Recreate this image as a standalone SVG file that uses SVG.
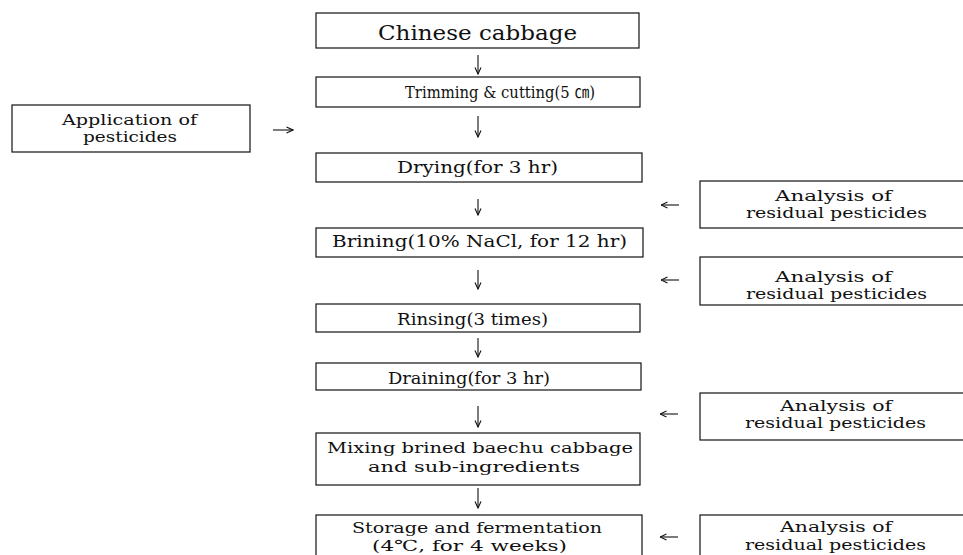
<svg xmlns="http://www.w3.org/2000/svg" width="963" height="555" viewBox="0 0 963 555">
<style>
  .box { fill: #ffffff; stroke: #111111; stroke-width: 1.2; }
  .t { font-family: "DejaVu Serif", "Liberation Serif", "Noto Sans CJK KR", serif; font-size: 17px; fill: #111111; }
  .big { font-size: 21px; }
  .sm { font-size: 14.5px; }
  .md { font-size: 15.5px; }
  .conn { stroke: #111111; stroke-width: 1.1; fill: none; marker-end: url(#ah); }
</style>
<defs>
  <marker id="ah" viewBox="0 0 8 8" refX="7.5" refY="4" markerWidth="8" markerHeight="8" markerUnits="userSpaceOnUse" orient="auto">
    <path d="M1,1 L7.5,4 L1,7" fill="none" stroke="#111111" stroke-width="1.1"/>
  </marker>
</defs>
<rect width="963" height="555" fill="#ffffff"/>

<g id="n1">
  <rect class="box" x="316" y="13" width="323" height="35"/>
  <text class="t big" x="378" y="40" textLength="199" lengthAdjust="spacingAndGlyphs">Chinese cabbage</text>
</g>
<g id="n2">
  <rect class="box" x="316" y="77" width="324" height="30"/>
  <text class="t" x="405" y="98" font-size="16" textLength="190" lengthAdjust="spacingAndGlyphs">Trimming &amp; cutting(5 ㎝)</text>
</g>
<g id="n3">
  <rect class="box" x="12" y="105" width="238" height="47"/>
  <text class="t md" x="62" y="125" textLength="135" lengthAdjust="spacingAndGlyphs">Application of</text>
  <text class="t md" x="83" y="142" textLength="94" lengthAdjust="spacingAndGlyphs">pesticides</text>
</g>
<g id="n4">
  <rect class="box" x="316" y="153" width="326" height="29"/>
  <text class="t" x="397" y="173" textLength="161" lengthAdjust="spacingAndGlyphs">Drying(for 3 hr)</text>
</g>
<g id="n5">
  <rect class="box" x="700" y="181" width="280" height="47"/>
  <text class="t sm" x="775" y="201" textLength="117" lengthAdjust="spacingAndGlyphs">Analysis of</text>
  <text class="t sm" x="746" y="218" textLength="181" lengthAdjust="spacingAndGlyphs">residual pesticides</text>
</g>
<g id="n6">
  <rect class="box" x="316" y="228" width="327" height="29"/>
  <text class="t" x="332" y="247" textLength="295" lengthAdjust="spacingAndGlyphs">Brining(10% NaCl, for 12 hr)</text>
</g>
<g id="n7">
  <rect class="box" x="700" y="257" width="280" height="48"/>
  <text class="t sm" x="775" y="282" textLength="117" lengthAdjust="spacingAndGlyphs">Analysis of</text>
  <text class="t sm" x="746" y="299" textLength="181" lengthAdjust="spacingAndGlyphs">residual pesticides</text>
</g>
<g id="n8">
  <rect class="box" x="316" y="304" width="324" height="28"/>
  <text class="t" x="397" y="325" textLength="151" lengthAdjust="spacingAndGlyphs">Rinsing(3 times)</text>
</g>
<g id="n9">
  <rect class="box" x="316" y="363" width="325" height="27"/>
  <text class="t" x="388" y="384" textLength="162" lengthAdjust="spacingAndGlyphs">Draining(for 3 hr)</text>
</g>
<g id="n10">
  <rect class="box" x="700" y="393" width="280" height="47"/>
  <text class="t sm" x="780" y="411" textLength="112" lengthAdjust="spacingAndGlyphs">Analysis of</text>
  <text class="t sm" x="745" y="428" textLength="181" lengthAdjust="spacingAndGlyphs">residual pesticides</text>
</g>
<g id="n11">
  <rect class="box" x="316" y="433" width="324" height="52"/>
  <text class="t md" x="327" y="453" textLength="306" lengthAdjust="spacingAndGlyphs">Mixing brined baechu cabbage</text>
  <text class="t md" x="368" y="472" textLength="212" lengthAdjust="spacingAndGlyphs">and sub-ingredients</text>
</g>
<g id="n12">
  <rect class="box" x="316" y="515" width="326" height="55"/>
  <text class="t md" x="352" y="533" textLength="250" lengthAdjust="spacingAndGlyphs">Storage and fermentation</text>
  <text class="t md" x="372" y="551" textLength="195" lengthAdjust="spacingAndGlyphs">(4℃, for 4 weeks)</text>
</g>
<g id="n13">
  <rect class="box" x="700" y="515" width="280" height="55"/>
  <text class="t sm" x="780" y="532" textLength="112" lengthAdjust="spacingAndGlyphs">Analysis of</text>
  <text class="t sm" x="745" y="550" textLength="181" lengthAdjust="spacingAndGlyphs">residual pesticides</text>
</g>

<g id="connectors">
  <line class="conn" x1="478" y1="55" x2="478" y2="74"/>
  <line class="conn" x1="478" y1="116" x2="478" y2="137"/>
  <line class="conn" x1="478" y1="199" x2="478" y2="215"/>
  <line class="conn" x1="478" y1="270" x2="478" y2="289"/>
  <line class="conn" x1="478" y1="338" x2="478" y2="357"/>
  <line class="conn" x1="478" y1="406" x2="478" y2="427"/>
  <line class="conn" x1="478" y1="488" x2="478" y2="508"/>
  <line class="conn" x1="273" y1="130" x2="293" y2="130"/>
  <line class="conn" x1="679" y1="205" x2="661" y2="205"/>
  <line class="conn" x1="679" y1="280" x2="661" y2="280"/>
  <line class="conn" x1="678" y1="414" x2="660" y2="414"/>
  <line class="conn" x1="678" y1="537" x2="660" y2="537"/>
</g>
</svg>
